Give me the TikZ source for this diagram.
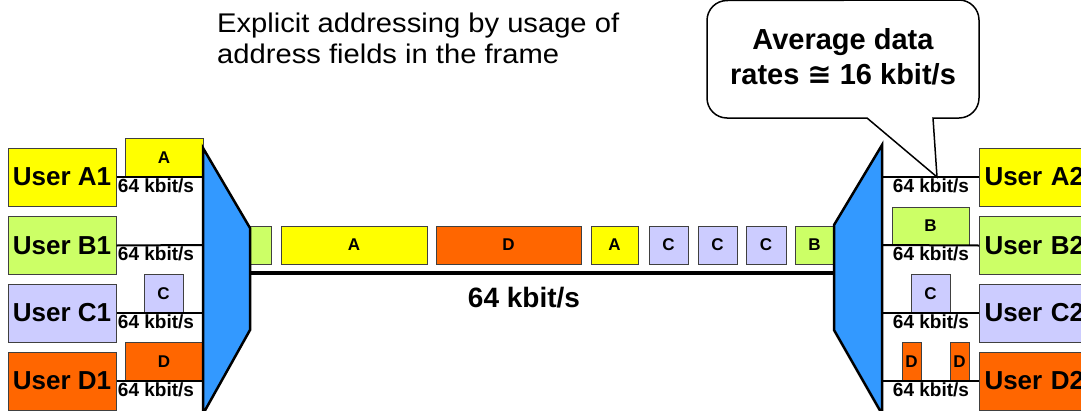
\documentclass[tikz,border=0pt]{standalone}
\usepackage{fontspec}
\usepackage{graphicx}
\setmainfont{Liberation Sans}
\newfontfamily\symfont{DejaVu Sans}
\definecolor{yel}{HTML}{FFFF00}
\definecolor{grn}{HTML}{CCFF66}
\definecolor{lav}{HTML}{CCCCFF}
\definecolor{org}{HTML}{FF6600}
\definecolor{blu}{HTML}{3399FF}
\definecolor{edge}{HTML}{404040}
\begin{document}
\begin{tikzpicture}[x=1pt,y=-1pt,
  userbox/.style={draw=edge, line width=1pt, inner sep=0pt, minimum width=108pt, minimum height=58pt,
    font=\fontsize{26}{30}\selectfont\bfseries},
  pkt/.style={draw=edge, line width=1pt, inner sep=0pt, font=\fontsize{17}{18}\selectfont\bfseries},
  rate/.style={inner sep=0pt, font=\fontsize{19}{20}\selectfont\bfseries},
  link/.style={line width=2pt},
  mux/.style={draw=black, line width=2.5pt, fill=blu, line join=miter}]
\useasboundingbox (0,0) rectangle (1081,410);
% title
\node[anchor=base west, inner sep=0pt, font=\fontsize{27}{31}\selectfont] (title) at (217,63)
  {\scalebox{1.08}[1]{\begin{tabular}[b]{@{}l@{}}Explicit addressing by usage of\\address fields in the frame\end{tabular}}};
% left users
\node[userbox, fill=yel] (uA1) at (62,177) {User A1};
\node[userbox, fill=grn] (uB1) at (62,245.5) {User B1};
\node[userbox, fill=lav] (uC1) at (62,313) {User C1};
\node[userbox, fill=org] (uD1) at (62,381) {User D1};
% right users
\foreach \n/\c/\y/\t in {uA2/yel/177/A2, uB2/grn/245.5/B2, uC2/lav/313/C2, uD2/org/381/D2}{
  \node[userbox, fill=\c, anchor=west, text width=106pt, inner xsep=5pt, align=left] (\n) at (979,\y) {User \t};
}
% mux edge coordinates
\coordinate (lmA) at (203,177); \coordinate (lmB) at (203,245);
\coordinate (lmC) at (203,313); \coordinate (lmD) at (203,381);
\coordinate (rmA) at (882,177); \coordinate (rmB) at (882,245);
\coordinate (rmC) at (882,313); \coordinate (rmD) at (882,381);
\coordinate (mL) at (250,273); \coordinate (mR) at (834,273);
% left packets
\node[pkt, fill=yel, minimum width=78pt, minimum height=39pt] (pA1) at (164,157.5) {A};
\node[pkt, fill=lav, minimum width=39pt, minimum height=39pt] (pC1) at (163.5,293.5) {C};
\node[pkt, fill=org, minimum width=78pt, minimum height=39pt] (pD1) at (164,361.5) {D};
% right packets
\node[pkt, fill=grn, minimum width=77pt, minimum height=38pt] (pB2) at (930.5,226) {B};
\node[pkt, fill=lav, minimum width=39pt, minimum height=39pt] (pC2) at (930.5,293.5) {C};
\node[pkt, fill=org, minimum width=19pt, minimum height=39pt] (pD2a) at (911.5,361.5) {D};
\node[pkt, fill=org, minimum width=19pt, minimum height=39pt] (pD2b) at (959.5,361.5) {D};
% middle packets
\begin{scope}[every node/.style={pkt, minimum height=38pt}]
\node[fill=grn, minimum width=24pt] (m0) at (259,245) {};
\node[fill=yel, minimum width=146pt] (m1) at (354,245) {A};
\node[fill=org, minimum width=145pt] (m2) at (508.5,245) {D};
\node[fill=yel, minimum width=47pt] (m3) at (614.5,245) {A};
\node[fill=lav, minimum width=39pt] (m4) at (668.5,245) {C};
\node[fill=lav, minimum width=39pt] (m5) at (717.5,245) {C};
\node[fill=lav, minimum width=40pt] (m6) at (766,245) {C};
\node[fill=grn, minimum width=39pt] (m7) at (814.5,245) {B};
\end{scope}
% links
\draw[link] (uA1.east) -- (lmA);
\draw[link] (uB1.east) -- (lmB);
\draw[link] (uC1.east) -- (lmC);
\draw[link] (uD1.east) -- (lmD);
\draw[link] (rmA) -- (uA2.west);
\draw[link] (rmB) -- (uB2.west);
\draw[link] (rmC) -- (uC2.west);
\draw[link] (rmD) -- (uD2.west);
\draw[line width=4pt] (mL) -- (mR);
% multiplexers
\draw[mux] (203,148) -- (250,228) -- (250,330) -- (203,414) -- cycle;
\draw[mux] (882,145) -- (834,225) -- (834,330) -- (882,414) -- cycle;
% rate labels
\foreach \y [count=\i] in {186,254,322,390}{
  \node[rate] (rl\i) at (156,\y) {64 kbit/s};
  \node[rate] (rr\i) at (931,\y) {64 kbit/s};
}
\node[inner sep=0pt, font=\fontsize{28}{30}\selectfont\bfseries] (trunk) at (524,298) {64 kbit/s};
% callout
\draw[line width=1.5pt, fill=white, line join=miter]
  (867,118) -- (937,177) -- (933,118) -- (959,118) arc[start angle=90, end angle=0, radius=20] -- (979,20)
  arc[start angle=0, end angle=-90, radius=20] -- (727,0.5) arc[start angle=-90, end angle=-180, radius=20]
  -- (707,98) arc[start angle=180, end angle=90, radius=20] -- cycle;
\node[inner sep=0pt, align=center, font=\fontsize{29}{35}\selectfont\bfseries] (avg) at (843,57)
  {Average data\\rates {\symfont ≅} 16 kbit/s};
\end{tikzpicture}
\end{document}
